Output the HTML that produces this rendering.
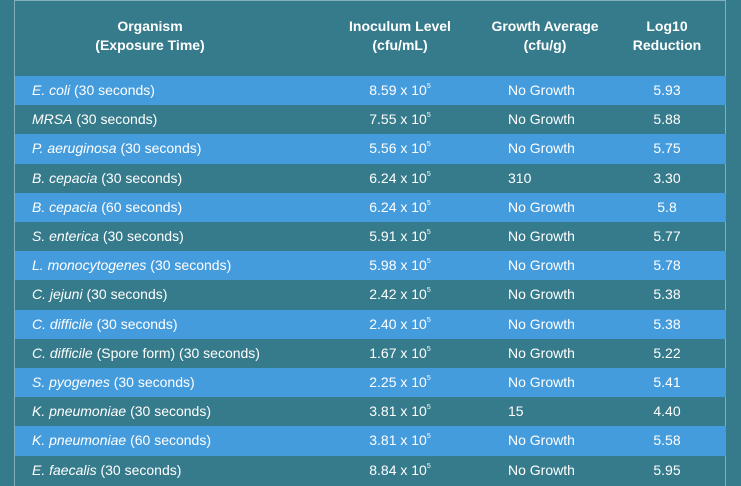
<!DOCTYPE html>
<html><head><meta charset="utf-8"><style>
html,body{margin:0;padding:0;}
body{width:741px;height:486px;background:#367b8b;position:relative;overflow:hidden;font-family:"Liberation Sans",sans-serif;color:#fff;}
.frame{position:absolute;left:14px;top:0;width:712px;height:486px;border-left:1px solid #7fb0bc;border-right:1px solid #7fb0bc;border-top:1px solid #7fb0bc;box-sizing:border-box;}
.h{position:absolute;top:17px;font-weight:bold;font-size:14px;line-height:19px;text-align:center;}
.row{position:absolute;left:15px;width:711px;height:29.2px;font-size:14px;}
.row.b{background:#459cdd;}
.row span{position:absolute;top:6px;white-space:nowrap;}
.c1{left:17px;}
.c2{left:335px;width:100px;text-align:center;}
.c3{left:493px;}
.c4{left:602px;width:100px;text-align:center;}
sup{font-size:7px;vertical-align:top;position:relative;top:1px;}
</style></head><body>
<div class="frame"></div>
<div class="h" style="left:80px;width:140px;">Organism<br>(Exposure Time)</div>
<div class="h" style="left:335px;width:130px;">Inoculum Level<br>(cfu/mL)</div>
<div class="h" style="left:480px;width:130px;">Growth Average<br>(cfu/g)</div>
<div class="h" style="left:617px;width:100px;">Log10<br>Reduction</div>
<div class="row b" style="top:76px"><span class="c1"><i>E. coli</i> (30 seconds)</span><span class="c2">8.59 x 10<sup>5</sup></span><span class="c3">No Growth</span><span class="c4">5.93</span></div>
<div class="row" style="top:105.2px"><span class="c1"><i>MRSA</i> (30 seconds)</span><span class="c2">7.55 x 10<sup>5</sup></span><span class="c3">No Growth</span><span class="c4">5.88</span></div>
<div class="row b" style="top:134.4px"><span class="c1"><i>P. aeruginosa</i> (30 seconds)</span><span class="c2">5.56 x 10<sup>5</sup></span><span class="c3">No Growth</span><span class="c4">5.75</span></div>
<div class="row" style="top:163.6px"><span class="c1"><i>B. cepacia</i> (30 seconds)</span><span class="c2">6.24 x 10<sup>5</sup></span><span class="c3">310</span><span class="c4">3.30</span></div>
<div class="row b" style="top:192.8px"><span class="c1"><i>B. cepacia</i> (60 seconds)</span><span class="c2">6.24 x 10<sup>5</sup></span><span class="c3">No Growth</span><span class="c4">5.8</span></div>
<div class="row" style="top:222px"><span class="c1"><i>S. enterica</i> (30 seconds)</span><span class="c2">5.91 x 10<sup>5</sup></span><span class="c3">No Growth</span><span class="c4">5.77</span></div>
<div class="row b" style="top:251.2px"><span class="c1"><i>L. monocytogenes</i> (30 seconds)</span><span class="c2">5.98 x 10<sup>5</sup></span><span class="c3">No Growth</span><span class="c4">5.78</span></div>
<div class="row" style="top:280.4px"><span class="c1"><i>C. jejuni</i> (30 seconds)</span><span class="c2">2.42 x 10<sup>5</sup></span><span class="c3">No Growth</span><span class="c4">5.38</span></div>
<div class="row b" style="top:309.6px"><span class="c1"><i>C. difficile</i> (30 seconds)</span><span class="c2">2.40 x 10<sup>5</sup></span><span class="c3">No Growth</span><span class="c4">5.38</span></div>
<div class="row" style="top:338.8px"><span class="c1"><i>C. difficile</i> (Spore form) (30 seconds)</span><span class="c2">1.67 x 10<sup>5</sup></span><span class="c3">No Growth</span><span class="c4">5.22</span></div>
<div class="row b" style="top:368px"><span class="c1"><i>S. pyogenes</i> (30 seconds)</span><span class="c2">2.25 x 10<sup>5</sup></span><span class="c3">No Growth</span><span class="c4">5.41</span></div>
<div class="row" style="top:397.2px"><span class="c1"><i>K. pneumoniae</i> (30 seconds)</span><span class="c2">3.81 x 10<sup>5</sup></span><span class="c3">15</span><span class="c4">4.40</span></div>
<div class="row b" style="top:426.4px"><span class="c1"><i>K. pneumoniae</i> (60 seconds)</span><span class="c2">3.81 x 10<sup>5</sup></span><span class="c3">No Growth</span><span class="c4">5.58</span></div>
<div class="row" style="top:455.6px"><span class="c1"><i>E. faecalis</i> (30 seconds)</span><span class="c2">8.84 x 10<sup>5</sup></span><span class="c3">No Growth</span><span class="c4">5.95</span></div>
</body></html>
